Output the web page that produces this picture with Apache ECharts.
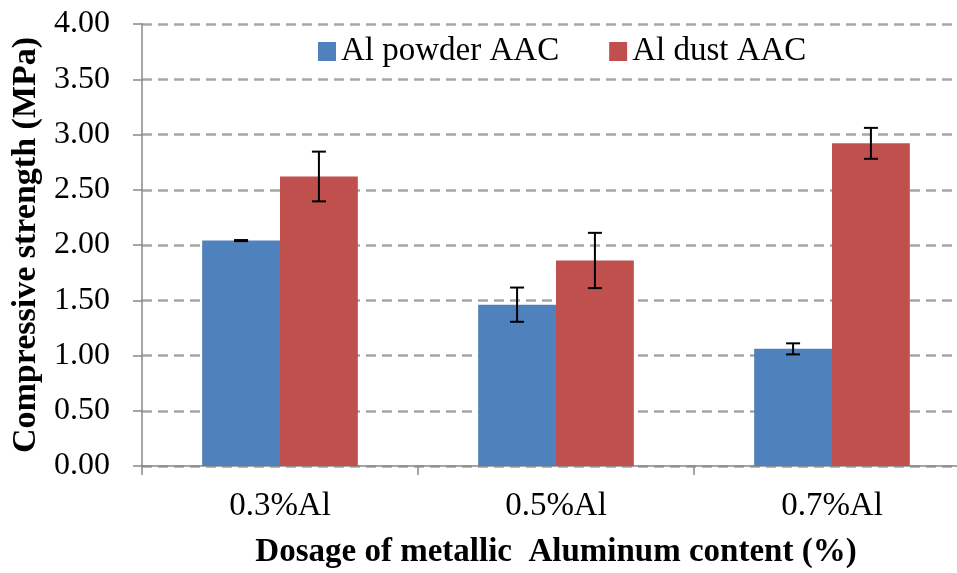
<!DOCTYPE html>
<html><head><meta charset="utf-8">
<script src="https://cdn.jsdelivr.net/npm/echarts@6/dist/echarts.min.js"></script>
<style>html,body{margin:0;padding:0;background:#fff}#c{width:957px;height:573px}</style>
</head><body><div id="c"></div>
<script>
const categories = ['0.3%Al', '0.5%Al', '0.7%Al'];
const powderValues = [2.04, 1.46, 1.06];
const powderErrors = [0.005, 0.155, 0.05];
const dustValues = [2.62, 1.86, 2.92];
const dustErrors = [0.225, 0.25, 0.14];
const seriesNames = ['Al powder AAC', 'Al dust AAC'];
const yTicks = [0, 0.5, 1, 1.5, 2, 2.5, 3, 3.5, 4];

const FONT = 'Liberation Serif';
const BAR_FRAC = 0.282;

function errSeries(vals, errs, side) {
  return {
    type: 'custom',
    z: 10,
    silent: true,
    data: vals.map((v, i) => [i, v, errs[i]]),
    renderItem: function (params, api) {
      const i = api.value(0), v = api.value(1), e = api.value(2);
      const bw = api.size([1, 0])[0] * BAR_FRAC;
      const c = api.coord([i, v]);
      const x = c[0] + side * bw / 2;
      const top = api.coord([i, v + e])[1];
      const bot = api.coord([i, v - e])[1];
      const cap = 7;
      const st = { stroke: '#000', lineWidth: 2 };
      return { type: 'group', children: [
        { type: 'line', shape: { x1: x, y1: top, x2: x, y2: bot }, style: st },
        { type: 'line', shape: { x1: x - cap, y1: top, x2: x + cap, y2: top }, style: st },
        { type: 'line', shape: { x1: x - cap, y1: bot, x2: x + cap, y2: bot }, style: st }
      ]};
    }
  };
}

const chart = echarts.init(document.getElementById('c'));
chart.setOption({
  animation: false,
  backgroundColor: '#fff',
  textStyle: { fontFamily: FONT },
  legend: {
    top: 35, left: 318, padding: 0,
    itemWidth: 18, itemHeight: 19, itemGap: 50,
    icon: 'rect',
    data: seriesNames,
    textStyle: { fontFamily: FONT, fontSize: 33, color: '#000' }
  },
  grid: { left: 142, right: -13, top: 24, bottom: 107, containLabel: false, outerBoundsMode: 'none' },
  xAxis: {
    type: 'category',
    data: categories,
    name: 'Dosage of metallic  Aluminum content (%)',
    nameLocation: 'middle',
    nameGap: 70,
    nameTextStyle: { fontFamily: FONT, fontSize: 33, fontWeight: 'bold', color: '#000' },
    axisLine: { lineStyle: { color: '#888', width: 1.5 } },
    axisTick: { show: true, length: 9, lineStyle: { color: '#888', width: 1.5 } },
    axisLabel: { fontFamily: FONT, fontSize: 33, color: '#000', margin: 24 }
  },
  yAxis: {
    type: 'value',
    min: 0, max: 4, interval: 0.5,
    name: 'Compressive strength (MPa)',
    nameLocation: 'middle',
    nameGap: 94,
    nameTextStyle: { fontFamily: FONT, fontSize: 34, fontWeight: 'bold', color: '#000' },
    axisLine: { show: true, lineStyle: { color: '#888', width: 1.5 } },
    axisTick: { show: true, length: 9, lineStyle: { color: '#888', width: 1.5 } },
    axisLabel: { fontFamily: FONT, fontSize: 32, color: '#000', margin: 32,
      formatter: v => yTicks.includes(v) ? v.toFixed(2) : '' },
    splitLine: { lineStyle: { color: '#a6a6a6', type: [10, 6], width: 2.5 } }
  },
  series: [
    { name: seriesNames[0], type: 'bar', data: powderValues, barWidth: (BAR_FRAC * 100) + '%', barGap: '0%',
      itemStyle: { color: '#4F81BD' } },
    { name: seriesNames[1], type: 'bar', data: dustValues, barWidth: (BAR_FRAC * 100) + '%', barGap: '0%',
      itemStyle: { color: '#C0504D' } },
    errSeries(powderValues, powderErrors, -1),
    errSeries(dustValues, dustErrors, 1)
  ]
});
</script></body></html>
